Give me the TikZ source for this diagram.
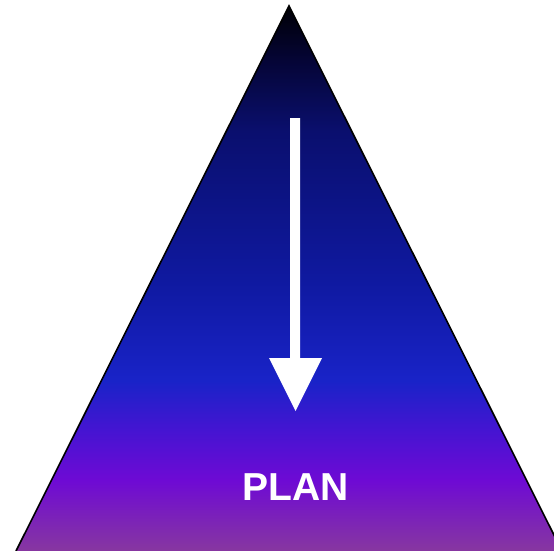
\documentclass[tikz,border=0pt]{standalone}
\usepackage{fontspec}
\setmainfont{Liberation Sans}
\definecolor{s0}{RGB}{0,0,5}
\definecolor{s1}{RGB}{5,5,55}
\definecolor{s2}{RGB}{10,15,110}
\definecolor{s3}{RGB}{15,25,160}
\definecolor{s4}{RGB}{25,35,200}
\definecolor{s5}{RGB}{70,20,210}
\definecolor{s6}{RGB}{110,10,212}
\definecolor{s7}{RGB}{135,55,160}
% bbox of triangle: y from 6 (top, 75bp) to 551 (bottom, 25bp)
\pgfdeclareverticalshading{trishade}{100bp}{%
color(0bp)=(s7);
color(25bp)=(s7);
color(31.5bp)=(s6);
color(36bp)=(s5);
color(40.6bp)=(s4);
color(49.8bp)=(s3);
color(63.5bp)=(s2);
color(69.9bp)=(s1);
color(75bp)=(s0);
color(100bp)=(s0)}
\tikzset{
  tri/.style={shading=trishade},
  edge/.style={draw=black, line width=1.6pt, line join=miter},
  arrowshape/.style={fill=white, draw=none},
  label/.style={text=white, font=\bfseries\fontsize{39}{39}\selectfont, inner sep=0pt}
}
\begin{document}
\begin{tikzpicture}[x=1pt,y=1pt]
\useasboundingbox (0,0) rectangle (554,-551);
\begin{scope}
\clip (0,0) rectangle (554,-551);
\coordinate (apex) at (289,-6);
\coordinate (bl) at (16,-551);
\coordinate (br) at (562,-551);
\shade[tri] (apex) -- (bl) -- (br) -- cycle;
\draw[edge] (bl) -- (apex) -- (br);
\end{scope}
\fill[arrowshape] (290,-118) -- (300,-118) -- (300,-358) -- (322,-358) -- (295.5,-411) -- (269,-358) -- (290,-358) -- cycle;
\node[label] (plan) at (295.5,-487) {PLAN};
\end{tikzpicture}
\end{document}
